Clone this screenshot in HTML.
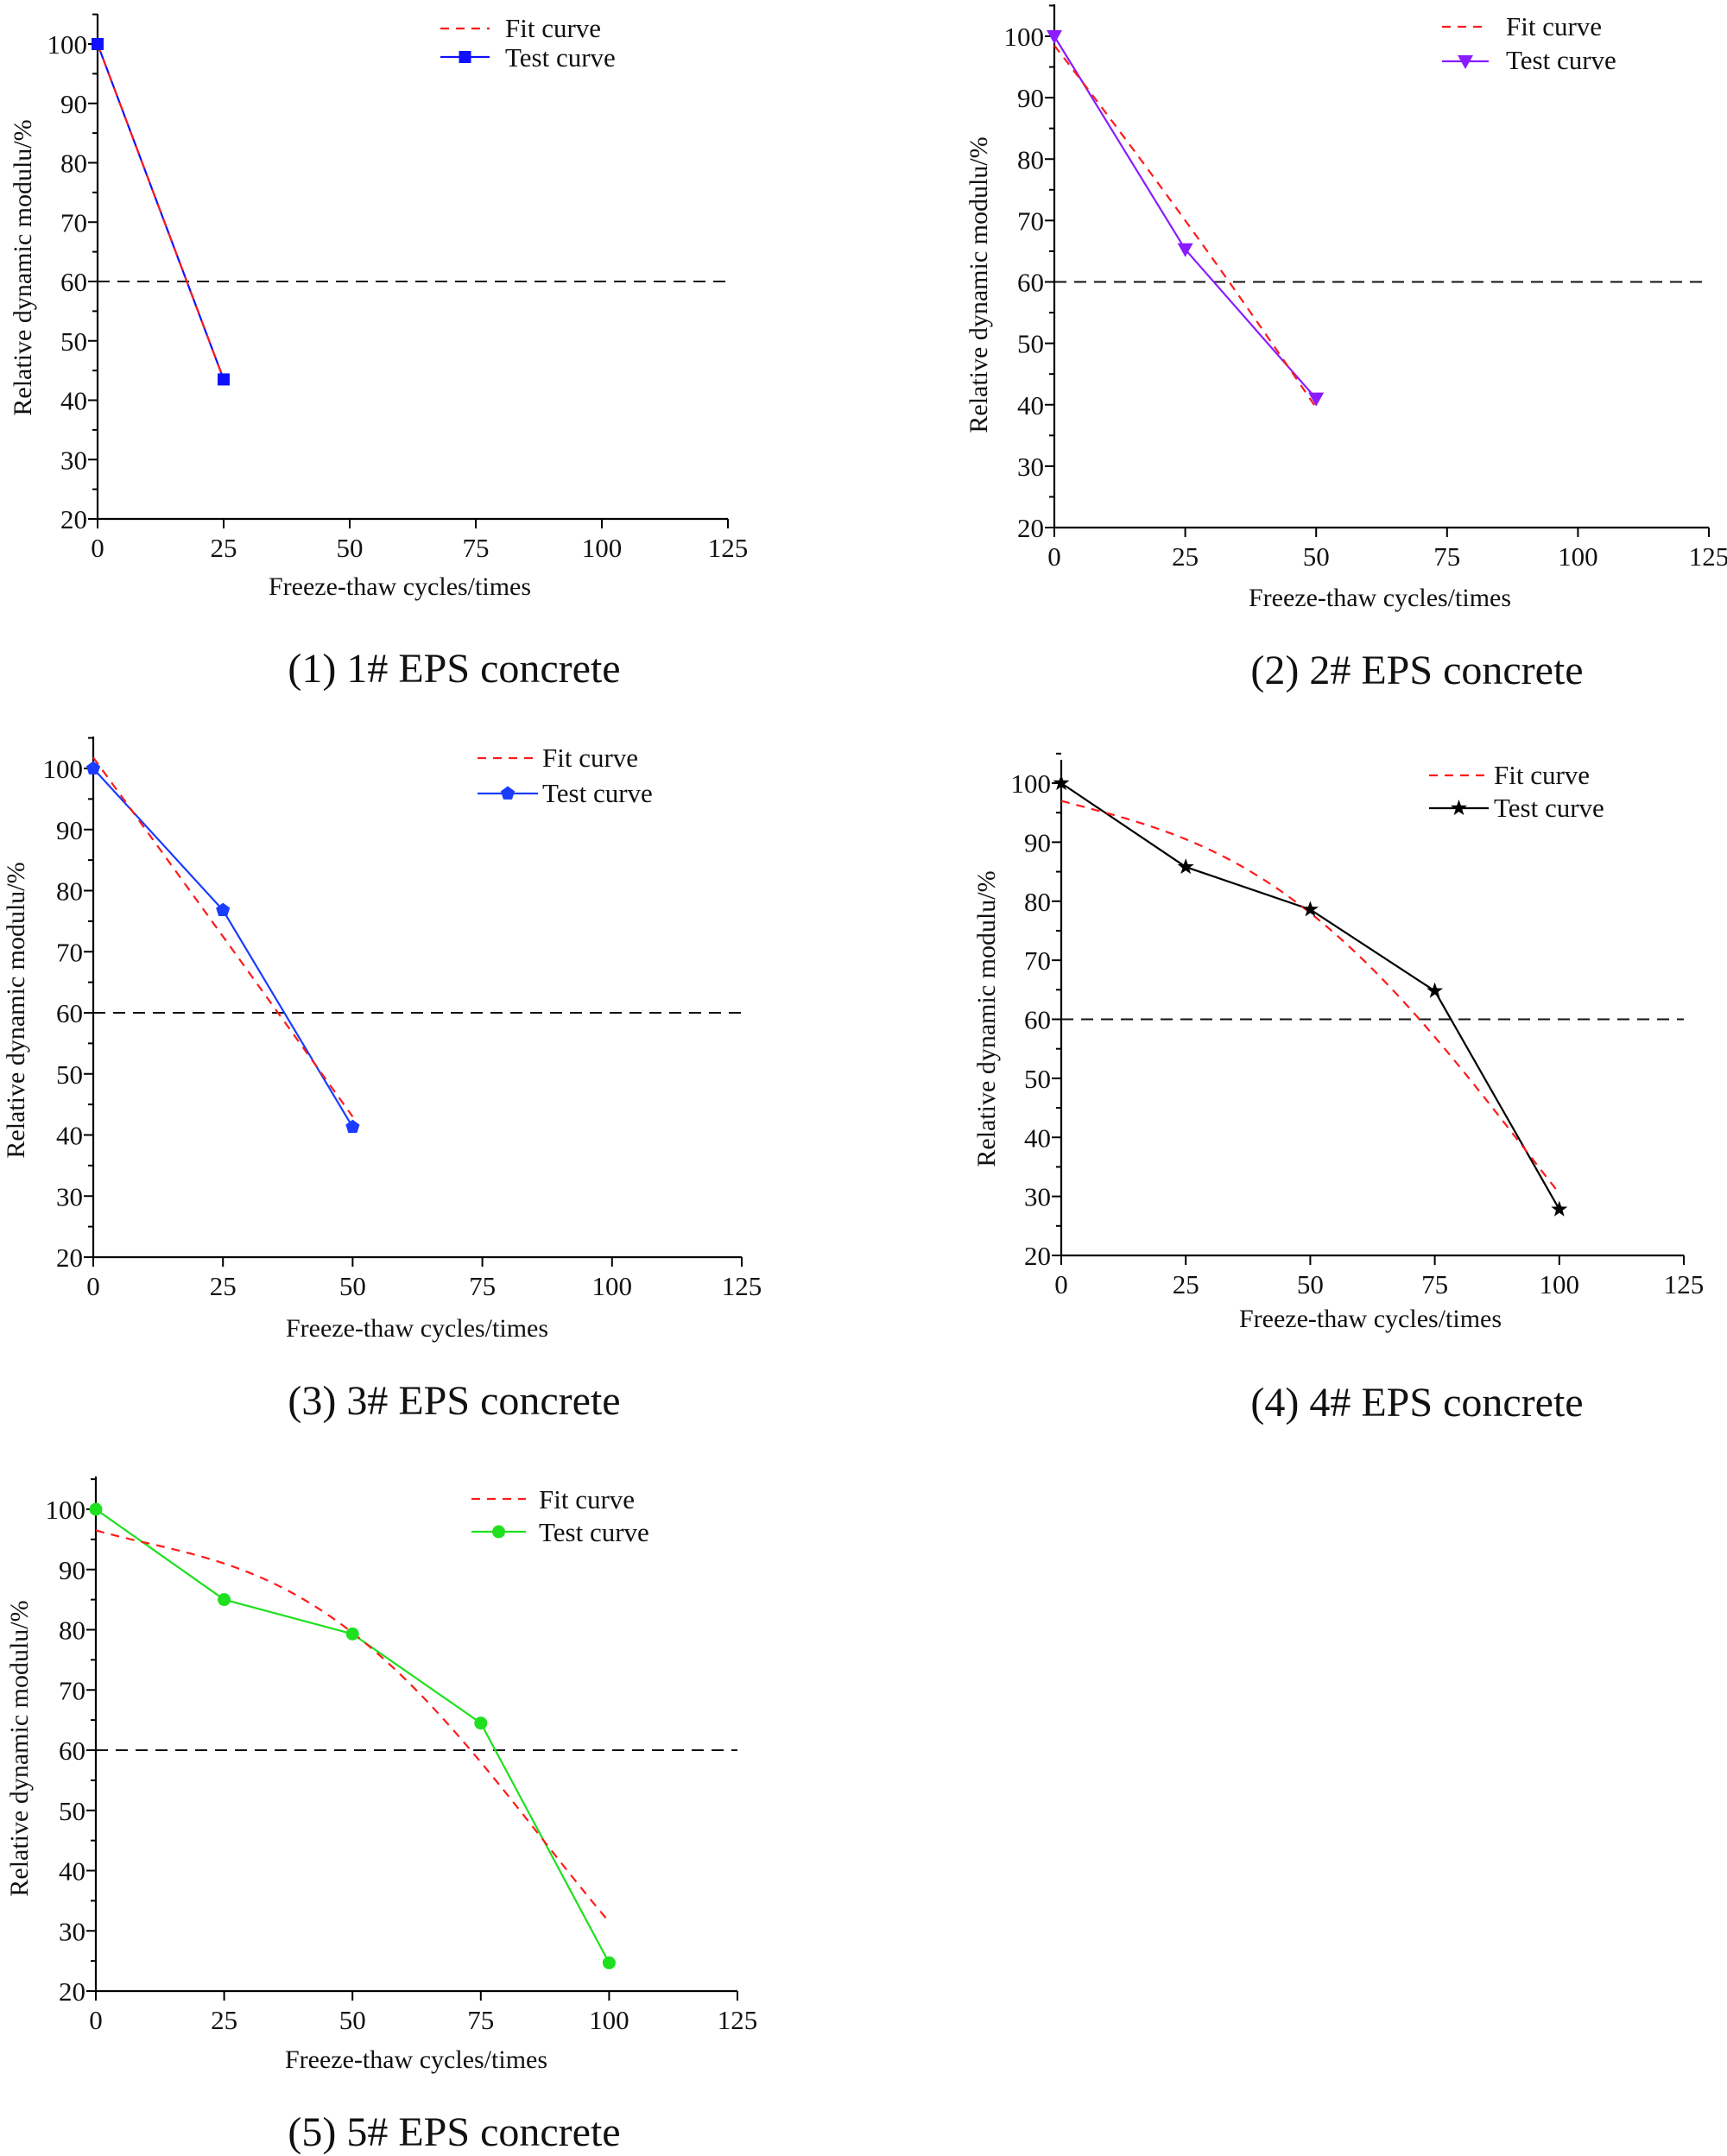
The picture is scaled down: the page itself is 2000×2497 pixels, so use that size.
<!DOCTYPE html>
<html><head><meta charset="utf-8"><style>
html,body{margin:0;padding:0;background:#fff;}
svg{display:block;}
text{font-family:"Liberation Serif",serif;fill:#111;}
</style></head><body>
<svg id="s" width="2000" height="2497" viewBox="0 0 2000 2497" xmlns="http://www.w3.org/2000/svg">
<rect width="2000" height="2497" fill="#fff"/>
<g font-size="30">
<text x="463" y="689" text-anchor="middle">Freeze-thaw cycles/times</text>
<text x="1598" y="702" text-anchor="middle">Freeze-thaw cycles/times</text>
<text x="483" y="1548" text-anchor="middle">Freeze-thaw cycles/times</text>
<text x="1587" y="1537" text-anchor="middle">Freeze-thaw cycles/times</text>
<text x="482" y="2395" text-anchor="middle">Freeze-thaw cycles/times</text>
<text transform="translate(36,310) rotate(-90)" text-anchor="middle">Relative dynamic modulu/%</text>
<text transform="translate(1143,330) rotate(-90)" text-anchor="middle">Relative dynamic modulu/%</text>
<text transform="translate(28,1170) rotate(-90)" text-anchor="middle">Relative dynamic modulu/%</text>
<text transform="translate(1152,1180) rotate(-90)" text-anchor="middle">Relative dynamic modulu/%</text>
<text transform="translate(32,2025) rotate(-90)" text-anchor="middle">Relative dynamic modulu/%</text>
</g>
<g font-size="31">
<text x="585" y="43">Fit curve</text><text x="585" y="77">Test curve</text>
<text x="1744" y="41">Fit curve</text><text x="1744" y="80">Test curve</text>
<text x="628" y="888">Fit curve</text><text x="628" y="929">Test curve</text>
<text x="1730" y="908">Fit curve</text><text x="1730" y="946">Test curve</text>
<text x="624" y="1747">Fit curve</text><text x="624" y="1785">Test curve</text>
</g>
<g font-size="48" text-anchor="middle">
<text x="526" y="790">(1) 1# EPS concrete</text>
<text x="1641" y="792">(2) 2# EPS concrete</text>
<text x="526" y="1638">(3) 3# EPS concrete</text>
<text x="1641" y="1640">(4) 4# EPS concrete</text>
<text x="526" y="2485">(5) 5# EPS concrete</text>
</g>
<g id="plots"></g>
</svg>
<script>
var P=[
{x0:113,x1:843,y100:51,y20:601,top:16,color:"#1010ff",m:"sq",n:2,
 test:[100,43.5],fit:[[0,100],[25,43.5]],lg:{x:510,x2:567,fy:33,ty:66}},
{x0:1221,x1:1979,y100:42,y20:611,top:5,color:"#8a1cff",m:"tri",n:3,
 test:[100,65.3,41],fit:"q",fv:[98.5,70,39.5],lg:{x:1670,x2:1724,fy:31,ty:71}},
{x0:108,x1:859,y100:890,y20:1456,top:853,color:"#1a3cff",m:"pent",n:3,
 test:[100,76.8,41.3],fit:"q",fv:[101.8,72.5,43],lg:{x:553,x2:623,fy:878,ty:919}},
{x0:1229,x1:1950,y100:907,y20:1454,top:880,color:"#000",m:"star",n:5,
 test:[100,85.8,78.6,64.8,27.8],fit:"c",fv:[97,90.5,78,57,30.5],lg:{x:1655,x2:1724,fy:898,ty:936}},
{x0:111,x1:854,y100:1748,y20:2306,top:1710,color:"#1ee01e",m:"circ",n:5,
 test:[100,85,79.3,64.5,24.7],fit:"c",fv:[96.5,91,79.5,58,31.5],lg:{x:546,x2:609,fy:1736,ty:1774}}
];
var NS="http://www.w3.org/2000/svg",G=document.getElementById("plots");
function el(t,a,p){var e=document.createElementNS(NS,t);for(var k in a)e.setAttribute(k,a[k]);(p||G).appendChild(e);return e;}
function lag(xs,ys,x){var s=0;for(var i=0;i<xs.length;i++){var t=ys[i];for(var j=0;j<xs.length;j++)if(j!=i)t*=(x-xs[j])/(xs[i]-xs[j]);s+=t;}return s;}
function marker(type,x,y,c){
 if(type=="sq")el("rect",{x:x-7,y:y-7,width:14,height:14,fill:c});
 else if(type=="circ")el("circle",{cx:x,cy:y,r:7.5,fill:c});
 else if(type=="tri")el("polygon",{points:(x-9)+","+(y-7)+" "+(x+9)+","+(y-7)+" "+x+","+(y+9),fill:c});
 else if(type=="pent"){var p=[];for(var i=0;i<5;i++){var a=-Math.PI/2+i*2*Math.PI/5;p.push((x+8.5*Math.cos(a))+","+(y+8.5*Math.sin(a)));}el("polygon",{points:p.join(" "),fill:c});}
 else if(type=="star"){var p=[];for(var i=0;i<10;i++){var a=-Math.PI/2+i*Math.PI/5,r=i%2?4:10;p.push((x+r*Math.cos(a))+","+(y+r*Math.sin(a)));}el("polygon",{points:p.join(" "),fill:c});}
}
P.forEach(function(p){
 var X=function(v){return p.x0+(p.x1-p.x0)*v/125;},Y=function(v){return p.y20+(p.y100-p.y20)*(v-20)/80;};
 el("line",{x1:p.x0,y1:p.top,x2:p.x0,y2:p.y20,stroke:"#000","stroke-width":2.2});
 el("line",{x1:p.x0,y1:p.y20,x2:p.x1,y2:p.y20,stroke:"#000","stroke-width":2.2});
 for(var v=20;v<=105;v+=5){var big=v%10==0;el("line",{x1:p.x0-(big?11:6),y1:Y(v),x2:p.x0,y2:Y(v),stroke:"#000","stroke-width":2});
  if(big&&v<=100){var t=el("text",{x:p.x0-12,y:Y(v)+11,"text-anchor":"end","font-size":31});t.textContent=v;}}
 for(var v=0;v<=125;v+=25){el("line",{x1:X(v),y1:p.y20,x2:X(v),y2:p.y20+11,stroke:"#000","stroke-width":2});
  var t=el("text",{x:X(v),y:p.y20+44,"text-anchor":"middle","font-size":31});t.textContent=v;}
 el("line",{x1:p.x0,y1:Y(60),x2:p.x1,y2:Y(60),stroke:"#111","stroke-width":2,"stroke-dasharray":"14,9"});
 var pts=p.test.map(function(v,i){return X(i*25)+","+Y(v);}).join(" ");
 el("polyline",{points:pts,fill:"none",stroke:p.color,"stroke-width":2.2});
 var fp=[];
 if(p.fit=="q"||p.fit=="c"){var xs=p.fv.map(function(_,i){return i*25;});var xm=xs[xs.length-1];
  for(var x=0;x<=xm+0.01;x+=1)fp.push(X(x)+","+Y(lag(xs,p.fv,x)));}
 else fp=p.fit.map(function(q){return X(q[0])+","+Y(q[1]);});
 el("polyline",{points:fp.join(" "),fill:"none",stroke:"#ff1a1a","stroke-width":2.2,"stroke-dasharray":"10,8"});
 p.test.forEach(function(v,i){marker(p.m,X(i*25),Y(v),p.color);});
 el("line",{x1:p.lg.x,y1:p.lg.fy,x2:p.lg.x2,y2:p.lg.fy,stroke:"#ff1a1a","stroke-width":2.2,"stroke-dasharray":"10,8"});
 el("line",{x1:p.lg.x,y1:p.lg.ty,x2:p.lg.x2,y2:p.lg.ty,stroke:p.color,"stroke-width":2.2});
 marker(p.m,(p.lg.x+p.lg.x2)/2,p.lg.ty,p.color);
});
</script>
</body></html>
